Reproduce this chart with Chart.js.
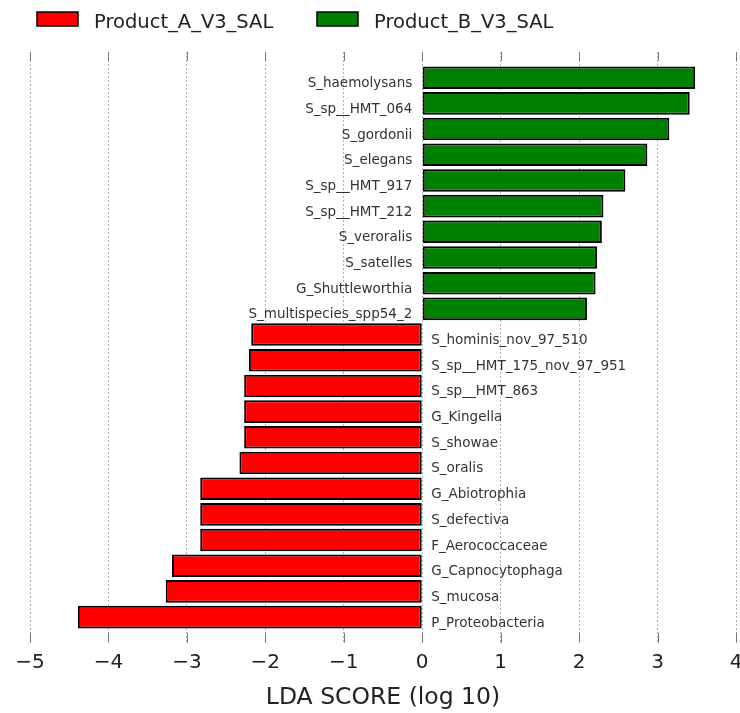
<!DOCTYPE html>
<html>
<head>
<meta charset="utf-8">
<script src="https://cdn.jsdelivr.net/npm/chart.js@4.4.1/dist/chart.umd.min.js"></script>
<style>
  html, body { margin: 0; padding: 0; background: #fff; }
  #wrap { width: 740px; height: 713px; }
</style>
</head>
<body>
<div id="wrap"><canvas id="lda-chart"></canvas></div>
<script>
// classes, in legend order
const groupNames  = ['Product_A_V3_SAL', 'Product_B_V3_SAL'];
const groupColors = ['#ff0000', '#008000'];

// enriched in Product_B (drawn first, top of the plot)
const taxaB = ['S_haemolysans', 'S_sp__HMT_064', 'S_gordonii', 'S_elegans',
               'S_sp__HMT_917', 'S_sp__HMT_212', 'S_veroralis', 'S_satelles',
               'G_Shuttleworthia', 'S_multispecies_spp54_2'];
const scoresB = [3.48, 3.41, 3.15, 2.87, 2.59, 2.31, 2.29, 2.23, 2.21, 2.10];

// enriched in Product_A (negative side)
const taxaA = ['S_hominis_nov_97_510', 'S_sp__HMT_175_nov_97_951', 'S_sp__HMT_863',
               'G_Kingella', 'S_showae', 'S_oralis', 'G_Abiotrophia', 'S_defectiva',
               'F_Aerococcaceae', 'G_Capnocytophaga', 'S_mucosa', 'P_Proteobacteria'];
const scoresA = [-2.18, -2.21, -2.27, -2.27, -2.27, -2.33, -2.83, -2.83,
                 -2.83, -3.19, -3.27, -4.39];

const xTicks = [-5, -4, -3, -2, -1, 0, 1, 2, 3, 4];

var lda_chart = (function () {

    const FONT = "'DejaVu Sans', sans-serif";

    rows = () => taxaB.length + taxaA.length;

    makeData = (scores, offset) => scores.map((v, i) => ({ x: v, y: offset + i }));

    // taxon names next to the zero line, inward ticks, legend
    const decorations = {
        id: 'decorations',
        afterDraw(chart) {
            const ctx = chart.ctx,
                  area = chart.chartArea,
                  xs = chart.scales.x,
                  ys = chart.scales.y,
                  x0 = xs.getPixelForValue(0);

            ctx.save();

            // tick marks pointing into the axes, top and bottom
            ctx.strokeStyle = '#777';
            ctx.lineWidth = 1;
            xTicks.forEach(t => {
                const px = Math.round(xs.getPixelForValue(t)) + 0.5;
                ctx.beginPath();
                ctx.moveTo(px, area.top);
                ctx.lineTo(px, area.top + 9);
                ctx.moveTo(px, area.bottom);
                ctx.lineTo(px, area.bottom - 10);
                ctx.stroke();
            });

            // labels
            ctx.font = '13.5px ' + FONT;
            ctx.fillStyle = '#333';
            ctx.textBaseline = 'alphabetic';
            const names = taxaB.concat(taxaA),
                  vals = scoresB.concat(scoresA);
            names.forEach((n, i) => {
                const py = ys.getPixelForValue(i) + 9.5;
                if (vals[i] > 0) {
                    ctx.textAlign = 'right';
                    ctx.fillText(n, x0 - 10, py);
                } else {
                    ctx.textAlign = 'left';
                    ctx.fillText(n, x0 + 9, py);
                }
            });

            // legend
            const boxX = [37, 317];
            ctx.font = '19.5px ' + FONT;
            ctx.textAlign = 'left';
            groupNames.forEach((g, i) => {
                ctx.fillStyle = groupColors[i];
                ctx.fillRect(boxX[i], 12, 41, 14);
                ctx.strokeStyle = '#000';
                ctx.lineWidth = 1.5;
                ctx.strokeRect(boxX[i], 12, 41, 14);
                ctx.fillStyle = '#222';
                ctx.fillText(g, boxX[i] + 57, 28);
            });

            ctx.restore();
        }
    };

    draw = () => {
        const common = {
            borderColor: '#000',
            borderWidth: 2,
            borderSkipped: false,
            grouped: false,
            barPercentage: 0.88,
            categoryPercentage: 1
        };

        new Chart(document.getElementById('lda-chart'), {
            type: 'bar',
            data: {
                datasets: [
                    Object.assign({
                        label: groupNames[1],
                        data: makeData(scoresB, 0),
                        backgroundColor: groupColors[1]
                    }, common),
                    Object.assign({
                        label: groupNames[0],
                        data: makeData(scoresA, taxaB.length),
                        backgroundColor: groupColors[0]
                    }, common)
                ]
            },
            options: {
                indexAxis: 'y',
                responsive: true,
                maintainAspectRatio: false,
                animation: false,
                layout: { padding: { top: 52, left: 30, right: 4, bottom: 1 } },
                plugins: {
                    legend: { display: false },
                    tooltip: { enabled: false }
                },
                scales: {
                    y: {
                        type: 'linear',
                        display: false,
                        reverse: true,
                        offset: false,
                        min: -1,
                        max: rows()
                    },
                    x: {
                        type: 'linear',
                        min: xTicks[0],
                        max: xTicks[xTicks.length - 1],
                        z: 1,
                        afterFit: s => { s.paddingLeft = 0; s.paddingRight = 0; },
                        afterBuildTicks: s => { s.ticks = xTicks.map(v => ({ value: v })); },
                        grid: {
                            color: 'rgba(0,0,0,0.3)',
                            lineWidth: 1,
                            drawTicks: false
                        },
                        border: { display: false, dash: [2, 2] },
                        ticks: {
                            padding: 8,
                            color: '#222',
                            font: { family: FONT, size: 20 },
                            callback: v => String(v).replace('-', '\u2212')
                        },
                        title: {
                            display: true,
                            text: 'LDA SCORE (log 10)',
                            color: '#222',
                            font: { family: FONT, size: 23.5 },
                            padding: { top: 1, bottom: 0 }
                        }
                    }
                }
            },
            plugins: [decorations]
        });
    }

    return { draw }
}());

lda_chart.draw();
</script>
</body>
</html>
